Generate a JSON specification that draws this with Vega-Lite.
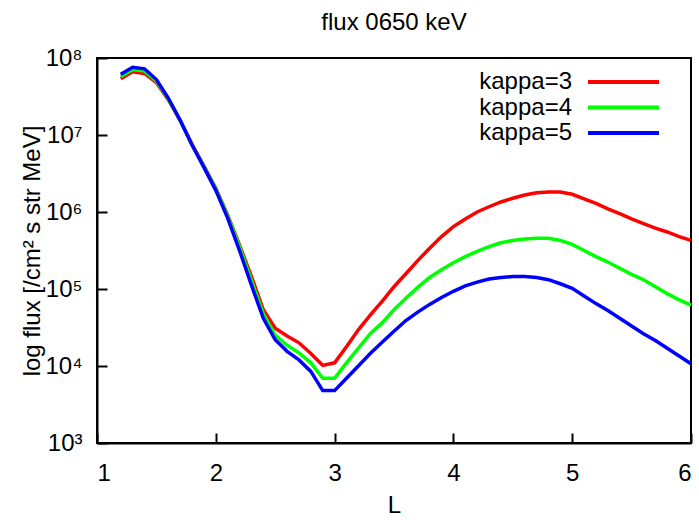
{
  "$schema": "https://vega.github.io/schema/vega-lite/v6.json",
  "width": 594,
  "height": 385,
  "autosize": {"type": "none"},
  "padding": {"left": 97, "top": 58, "right": 8, "bottom": 77},
  "background": "#ffffff",
  "config": {
    "font": "Liberation Sans",
    "view": {"stroke": "#000000", "strokeWidth": 2}
  },
  "title": {
    "text": "flux 0650 keV",
    "fontSize": 24,
    "fontWeight": "normal",
    "color": "#000000",
    "anchor": "middle",
    "offset": 11
  },
  "data": {
    "values": [
      {"L": 1.2, "kappa=3": 5.37e7, "kappa=4": 5.75e7, "kappa=5": 6.17e7},
      {"L": 1.3, "kappa=3": 6.61e7, "kappa=4": 7.08e7, "kappa=5": 7.59e7},
      {"L": 1.4, "kappa=3": 6.31e7, "kappa=4": 6.76e7, "kappa=5": 7.24e7},
      {"L": 1.5, "kappa=3": 4.79e7, "kappa=4": 5.01e7, "kappa=5": 5.25e7},
      {"L": 1.6, "kappa=3": 2.88e7, "kappa=4": 2.95e7, "kappa=5": 3.02e7},
      {"L": 1.7, "kappa=3": 1.55e7, "kappa=4": 1.55e7, "kappa=5": 1.55e7},
      {"L": 1.8, "kappa=3": 7.59e6, "kappa=4": 7.41e6, "kappa=5": 7.41e6},
      {"L": 1.9, "kappa=3": 3.98e6, "kappa=4": 3.89e6, "kappa=5": 3.80e6},
      {"L": 2.0, "kappa=3": 2.04e6, "kappa=4": 2.00e6, "kappa=5": 1.91e6},
      {"L": 2.1, "kappa=3": 9.12e5, "kappa=4": 8.91e5, "kappa=5": 8.32e5},
      {"L": 2.2, "kappa=3": 3.72e5, "kappa=4": 3.55e5, "kappa=5": 3.16e5},
      {"L": 2.3, "kappa=3": 1.45e5, "kappa=4": 1.29e5, "kappa=5": 1.12e5},
      {"L": 2.4, "kappa=3": 5.37e4, "kappa=4": 4.79e4, "kappa=5": 4.17e4},
      {"L": 2.5, "kappa=3": 3.09e4, "kappa=4": 2.51e4, "kappa=5": 2.19e4},
      {"L": 2.6, "kappa=3": 2.45e4, "kappa=4": 1.86e4, "kappa=5": 1.55e4},
      {"L": 2.7, "kappa=3": 2.00e4, "kappa=4": 1.48e4, "kappa=5": 1.20e4},
      {"L": 2.8, "kappa=3": 1.45e4, "kappa=4": 1.10e4, "kappa=5": 8.51e3},
      {"L": 2.9, "kappa=3": 1.02e4, "kappa=4": 6.92e3, "kappa=5": 4.79e3},
      {"L": 3.0, "kappa=3": 1.10e4, "kappa=4": 6.92e3, "kappa=5": 4.79e3},
      {"L": 3.1, "kappa=3": 1.78e4, "kappa=4": 1.10e4, "kappa=5": 6.92e3},
      {"L": 3.2, "kappa=3": 2.95e4, "kappa=4": 1.70e4, "kappa=5": 1.00e4},
      {"L": 3.3, "kappa=3": 4.57e4, "kappa=4": 2.63e4, "kappa=5": 1.45e4},
      {"L": 3.4, "kappa=3": 6.92e4, "kappa=4": 3.63e4, "kappa=5": 2.04e4},
      {"L": 3.5, "kappa=3": 1.07e5, "kappa=4": 5.37e4, "kappa=5": 2.82e4},
      {"L": 3.6, "kappa=3": 1.58e5, "kappa=4": 7.59e4, "kappa=5": 3.89e4},
      {"L": 3.7, "kappa=3": 2.34e5, "kappa=4": 1.05e5, "kappa=5": 5.01e4},
      {"L": 3.8, "kappa=3": 3.39e5, "kappa=4": 1.41e5, "kappa=5": 6.31e4},
      {"L": 3.9, "kappa=3": 4.79e5, "kappa=4": 1.78e5, "kappa=5": 7.76e4},
      {"L": 4.0, "kappa=3": 6.46e5, "kappa=4": 2.19e5, "kappa=5": 9.33e4},
      {"L": 4.1, "kappa=3": 8.13e5, "kappa=4": 2.63e5, "kappa=5": 1.10e5},
      {"L": 4.2, "kappa=3": 1.00e6, "kappa=4": 3.09e5, "kappa=5": 1.23e5},
      {"L": 4.3, "kappa=3": 1.17e6, "kappa=4": 3.55e5, "kappa=5": 1.35e5},
      {"L": 4.4, "kappa=3": 1.35e6, "kappa=4": 3.98e5, "kappa=5": 1.41e5},
      {"L": 4.5, "kappa=3": 1.51e6, "kappa=4": 4.27e5, "kappa=5": 1.45e5},
      {"L": 4.6, "kappa=3": 1.66e6, "kappa=4": 4.47e5, "kappa=5": 1.45e5},
      {"L": 4.7, "kappa=3": 1.78e6, "kappa=4": 4.57e5, "kappa=5": 1.41e5},
      {"L": 4.8, "kappa=3": 1.82e6, "kappa=4": 4.57e5, "kappa=5": 1.32e5},
      {"L": 4.9, "kappa=3": 1.82e6, "kappa=4": 4.27e5, "kappa=5": 1.17e5},
      {"L": 5.0, "kappa=3": 1.70e6, "kappa=4": 3.80e5, "kappa=5": 1.02e5},
      {"L": 5.1, "kappa=3": 1.48e6, "kappa=4": 3.16e5, "kappa=5": 8.13e4},
      {"L": 5.2, "kappa=3": 1.29e6, "kappa=4": 2.63e5, "kappa=5": 6.46e4},
      {"L": 5.3, "kappa=3": 1.10e6, "kappa=4": 2.24e5, "kappa=5": 5.25e4},
      {"L": 5.4, "kappa=3": 9.55e5, "kappa=4": 1.86e5, "kappa=5": 4.17e4},
      {"L": 5.5, "kappa=3": 8.13e5, "kappa=4": 1.55e5, "kappa=5": 3.31e4},
      {"L": 5.6, "kappa=3": 7.08e5, "kappa=4": 1.32e5, "kappa=5": 2.63e4},
      {"L": 5.7, "kappa=3": 6.17e5, "kappa=4": 1.07e5, "kappa=5": 2.14e4},
      {"L": 5.8, "kappa=3": 5.50e5, "kappa=4": 8.71e4, "kappa=5": 1.70e4},
      {"L": 5.9, "kappa=3": 4.79e5, "kappa=4": 7.24e4, "kappa=5": 1.35e4},
      {"L": 6.0, "kappa=3": 4.27e5, "kappa=4": 6.17e4, "kappa=5": 1.07e4}
    ]
  },
  "transform": [
    {"fold": ["kappa=3", "kappa=4", "kappa=5"], "as": ["kappa", "flux"]}
  ],
  "mark": {"type": "line", "strokeWidth": 3.5},
  "encoding": {
    "x": {
      "field": "L",
      "type": "quantitative",
      "scale": {"domain": [1, 6], "nice": false, "zero": false},
      "axis": {
        "values": [1, 2, 3, 4, 5, 6],
        "grid": false,
        "tickSize": -10,
        "tickWidth": 2,
        "tickColor": "black",
        "domainColor": "black",
        "domainWidth": 2,
        "labelColor": "black",
        "labelFontSize": 24,
        "labelPadding": 28,
        "title": "L",
        "titleColor": "black",
        "titleFontSize": 24,
        "titleFontWeight": "normal",
        "titlePadding": 8
      }
    },
    "y": {
      "field": "flux",
      "type": "quantitative",
      "scale": {"type": "log", "domain": [1000, 100000000], "nice": false},
      "axis": {
        "values": [1000, 10000, 100000, 1000000, 10000000, 100000000],
        "labelExpr": "'10' + ['⁰','¹','²','³','⁴','⁵','⁶','⁷','⁸','⁹'][round(log(datum.value)/LN10)]",
        "grid": false,
        "tickSize": -10,
        "tickWidth": 2,
        "tickColor": "black",
        "domainColor": "black",
        "domainWidth": 2,
        "labelColor": "black",
        "labelFontSize": 24,
        "labelPadding": 25,
        "title": "log flux [/cm² s str MeV]",
        "titleColor": "black",
        "titleFontSize": 24,
        "titleFontWeight": "normal",
        "titleX": -65,
        "titleY": 192.5,
        "titleAngle": -90,
        "titleAlign": "center",
        "titleBaseline": "middle"
      }
    },
    "color": {
      "field": "kappa",
      "type": "nominal",
      "scale": {
        "domain": ["kappa=3", "kappa=4", "kappa=5"],
        "range": ["#ff0000", "#00ff00", "#0000ff"]
      },
      "legend": {
        "title": null,
        "orient": "none",
        "legendX": 375,
        "legendY": 12,
        "symbolType": "M-7.1,0H7.1",
        "symbolSize": 100,
        "symbolStrokeWidth": 4,
        "labelFontSize": 24,
        "labelColor": "black",
        "rowPadding": 1.5,
        "encode": {
          "labels": {"update": {"x": {"value": 100}, "align": {"value": "right"}}},
          "symbols": {"update": {"x": {"value": 151.5}}}
        }
      }
    }
  }
}
